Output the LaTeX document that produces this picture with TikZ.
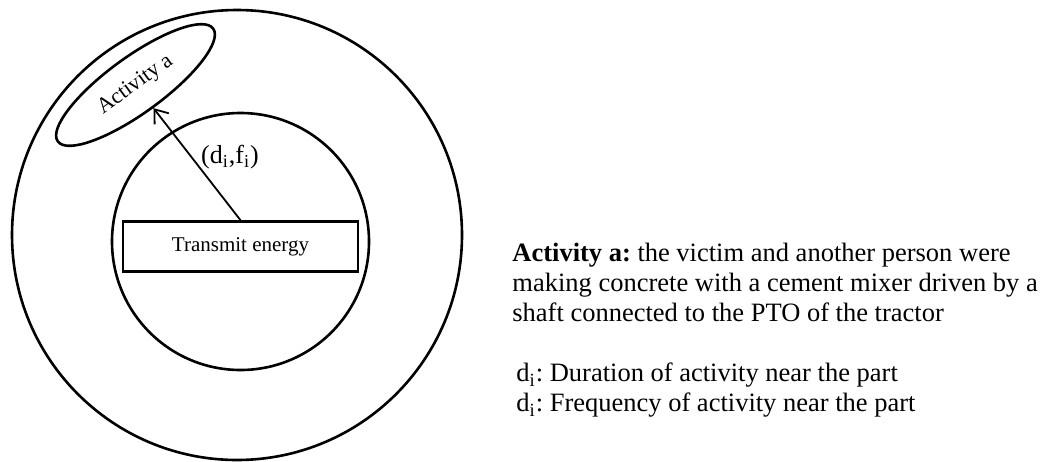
\documentclass[tikz,border=0pt]{standalone}
\usepackage{fontspec}
\setmainfont{Liberation Serif}
\usetikzlibrary{shapes.geometric,arrows.meta}
\frenchspacing

\tikzset{
    zone/.style={draw, circle, line width=1.3pt, inner sep=0pt},
    activity/.style={draw, ellipse, line width=1.3pt, inner sep=0pt, minimum width=96pt, minimum height=28pt, rotate=36, font=\fontsize{11}{13}\selectfont},
    part/.style={draw, rectangle, line width=1.3pt, inner sep=0pt, minimum width=117.5pt, minimum height=25pt, font=\fontsize{10.5}{12}\selectfont},
    legend/.style={align=left, anchor=north west, inner sep=0pt, font=\fontsize{13.25}{15}\selectfont}
}

\begin{document}
\begin{tikzpicture}[x=0.5pt, y=-0.5pt]
    \useasboundingbox (0,0) rectangle (1047,461);
    \node[zone, minimum size=225pt] (hazard) at (237,235) {};
    \node[zone, minimum size=128.5pt] (source) at (240.5,241.5) {};
    \node[part] (energy) at (240.5,246.5) {Transmit energy};
    \node[activity] (acta) at (135.5,85) {Activity a};
    \draw[line width=0.9pt, -{Straight Barb[length=6pt,width=9pt]}] (energy.north) -- (acta);
    \node[font=\fontsize{13}{15}\selectfont] (exposure) at (230,157) {(d\textsubscript{i},f\textsubscript{i})};
    \node[legend] (desc) at (512,243) {\textbf{Activity a:} the victim and another person were\\
        making concrete with a cement mixer driven by a\\
        shaft connected to the PTO of the tractor\\[15pt]
        \hspace{2pt}d\textsubscript{i}: Duration of activity near the part\\
        \hspace{2pt}d\textsubscript{i}: Frequency of activity near the part};
\end{tikzpicture}
\end{document}
